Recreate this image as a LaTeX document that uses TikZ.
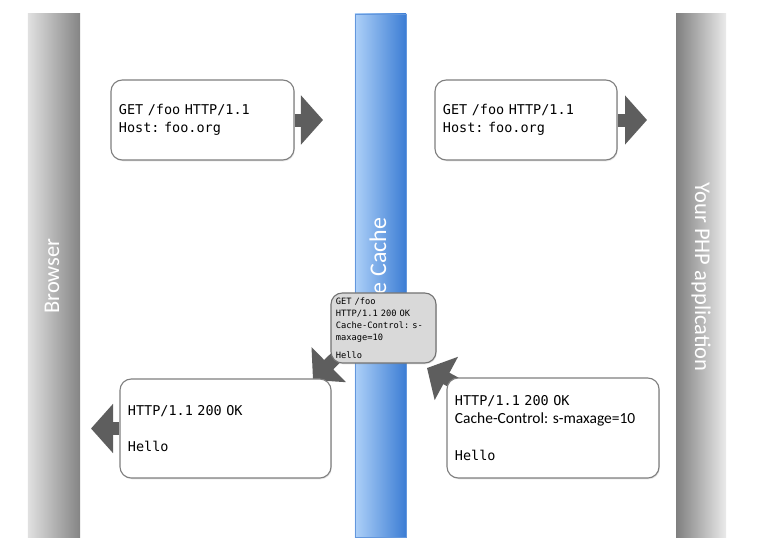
\documentclass[tikz,border=0pt]{standalone}
\usepackage{fontspec}
\setmainfont{Carlito}
\setmonofont{DejaVu Sans Mono}
\usepackage{tikz}
\usetikzlibrary{arrows.meta,calc,shadows}
\definecolor{cachelt}{HTML}{ADD0F8}
\definecolor{cachedk}{HTML}{3C7DD4}
\definecolor{boxedge}{HTML}{7F7F7F}
\definecolor{storedgray}{HTML}{D9D9D9}
\definecolor{flowgray}{HTML}{5E5E5E}
\pgfdeclarelayer{bars}
\pgfdeclarelayer{links}
\pgfsetlayers{bars,links,main}
\frenchspacing

\begin{document}
\begin{tikzpicture}[x=0.025cm, y=-0.025cm,
  bar/.style={minimum height=13.075cm, inner sep=0pt},
  barlabel/.style={font=\fontsize{16}{18}\selectfont, text=white},
  msg/.style={draw=boxedge, line width=0.8pt, fill=white, rounded corners=8pt, inner xsep=0.2cm, inner ysep=0pt, align=left, font=\fontsize{9.6}{13}\ttfamily, drop shadow={opacity=0.2, shadow xshift=0.6pt, shadow yshift=-0.9pt}},
  flow/.style={draw=flowgray, line width=0.325cm, -{Triangle[length=0.55cm, width=1.2cm]}},
]
\useasboundingbox (0,0) rectangle (774,546);

% swim lanes
\begin{pgfonlayer}{bars}
\node[bar, minimum width=1.3cm, left color=black!12, right color=black!48] (browser) at (54,275.5) {};
\node[bar, minimum width=1.275cm, left color=cachelt, right color=cachedk, draw=cachedk!80, line width=0.4pt] (cache) at (380.5,275.5) {};
\node[bar, minimum width=1.25cm, left color=black!50, right color=black!8] (app) at (701,275.5) {};
\node[barlabel, rotate=90] (browserlbl) at (52,276) {Browser};
\node[barlabel, rotate=90, font=\fontsize{17}{19}\selectfont] (cachelbl) at (378,256) {e Cache};
\node[barlabel, rotate=-90] (applbl) at (701,277) {Your PHP application};
\end{pgfonlayer}

\node[msg, text width=4.175cm, minimum height=2cm] (req) at (202.5,120) {GET /foo HTTP/1.1\\Host: foo.org};
\node[msg, text width=4.15cm, minimum height=2cm] (fwd) at (526,120) {GET /foo HTTP/1.1\\Host: foo.org};
\node[msg, text width=4.875cm, minimum height=2.475cm] (reply) at (225.5,428.5) {HTTP/1.1 200 OK\\[13pt]Hello};
\node[msg, text width=4.9cm, minimum height=2.5cm] (resp) at (553,428) {HTTP/1.1 200 OK\\{\rmfamily\fontsize{11}{13}\selectfont Cache-Control: s-maxage=10}\\[13pt]Hello};
\node[msg, fill=storedgray, draw=black!55, inner xsep=0.125cm, text width=2.375cm, minimum height=1.75cm, font=\fontsize{6.2}{8.5}\ttfamily] (stored) at (383.5,328) {GET /foo\\HTTP/1.1 200 OK\\Cache-Control: s-\\maxage=10\\[4.25pt]Hello};

\coordinate (tipreq) at (323,120);
\coordinate (tipfwd) at (647,120);
\coordinate (tipresp) at (427,368);
\coordinate (tipstored) at (313,380);
\coordinate (tipreply) at (91,428.5);

\draw[flow] (req.east) -- (tipreq);
\draw[flow] (fwd.east) -- (tipfwd);
\draw[flow] (reply.west) -- (tipreply);
\begin{pgfonlayer}{links}
\draw[flow] ($(resp.north west)+(11,7)$) -- (tipresp);
\draw[flow] ($(stored.south west)+(6,-6.5)$) -- (tipstored);
\end{pgfonlayer}
\end{tikzpicture}
\end{document}
